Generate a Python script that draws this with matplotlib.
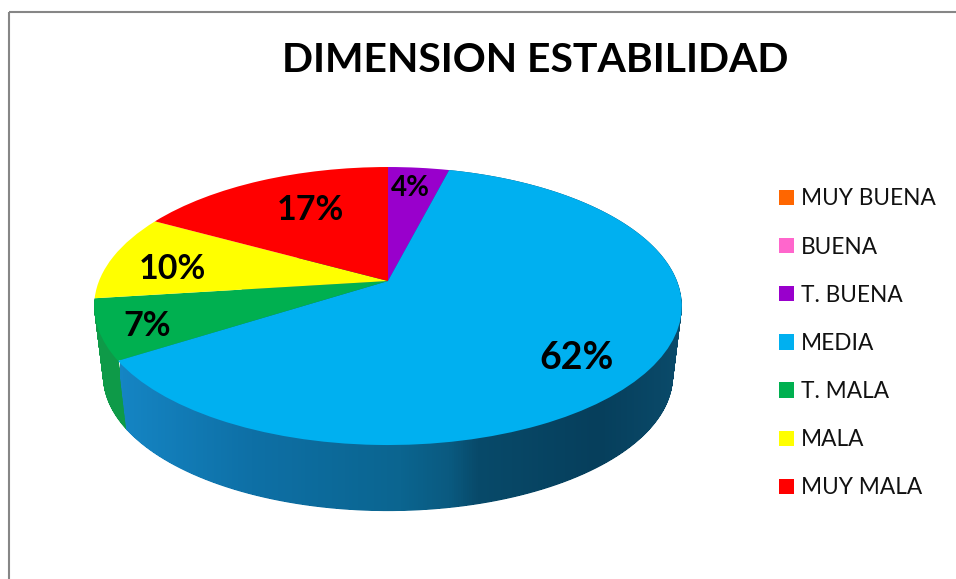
import numpy as np
import matplotlib
matplotlib.use('Agg')
import matplotlib.pyplot as plt
from matplotlib.colors import LinearSegmentedColormap
from matplotlib.patches import Patch, PathPatch, Rectangle
from matplotlib.path import Path
from matplotlib.transforms import Transform

plt.rcParams['font.family'] = ['Lato', 'DejaVu Sans']

titulo = 'DIMENSION ESTABILIDAD'
categorias = ['MUY BUENA', 'BUENA', 'T. BUENA', 'MEDIA', 'T. MALA', 'MALA', 'MUY MALA']
valores = [0, 0, 4, 62, 7, 10, 17]
colores = ['#FF6600', '#FF66CC', '#9900CC', '#00B0F0', '#00B050', '#FFFF00', '#FF0000']

# posicion (pixeles) de cada etiqueta de porcentaje
pos_etiquetas = {'T. BUENA': (410, 188), 'MEDIA': (577, 358), 'T. MALA': (147, 326),
                 'MALA': (172, 269), 'MUY MALA': (310, 210)}
tam_etiquetas = {'T. BUENA': 20, 'MEDIA': 27, 'T. MALA': 24.5, 'MALA': 24.5, 'MUY MALA': 24.5}

# sombreado del lateral, segun x en pixeles
sombra_x = [120, 250, 400, 450, 478, 600, 690]
sombra_azul = ['#1585C4', '#0E70A6', '#0B6590', '#0A5A80', '#084A6A', '#063F5C', '#0B4C6C']

CX, CY = 388, 281   # vertice de la tarta
A, B, K = 134.5, 289.0, 0.18   # perspectiva del disco
ESC_BASE, DESP_BASE = 0.97, 71   # disco inferior


def proyecta(x, y, esc=1.0, desp=0.0):
    d = 1 + K * y
    return CX + esc * B * x / d, CY + desp - esc * A * y / d


def lateral(a1, a2):
    # barrido del arco desde la cara superior hasta la base
    t = np.radians(np.linspace(a1, a2, 150))
    trozos = []
    for s in np.linspace(0, 1, 90):
        x, y = proyecta(np.sin(t), np.cos(t), 1 + s * (ESC_BASE - 1), s * DESP_BASE)
        trozos.append(Path(np.column_stack([np.r_[x, x[0]], np.r_[y, y[0]]]), closed=True))
    return Path.make_compound_path(*trozos)


class Perspectiva(Transform):
    input_dims = output_dims = 2
    is_separable = False
    has_inverse = False

    def transform_non_affine(self, values):
        v = np.asarray(values, dtype=float)
        return np.column_stack(proyecta(v[:, 0], v[:, 1]))


fig = plt.figure(figsize=(9.56, 5.79), dpi=100)
ax = fig.add_axes([0, 0, 1, 1])

fin = np.cumsum(valores) / sum(valores) * 360
ini = fin - np.array(valores) / sum(valores) * 360

# lateral azul con degradado, recortado a la forma del lateral
pos = (np.array(sombra_x) - sombra_x[0]) / (sombra_x[-1] - sombra_x[0])
cmap = LinearSegmentedColormap.from_list('lado', list(zip(pos, sombra_azul)))
img = ax.imshow(np.linspace(0, 1, 570).reshape(1, -1), cmap=cmap, aspect='auto',
                extent=(sombra_x[0], sombra_x[-1], 530, 150), zorder=1)
clip = PathPatch(lateral(ini[3], fin[3]), transform=ax.transData, fc='none', ec='none')
ax.add_patch(clip)
img.set_clip_path(clip)

# lateral verde
ax.add_patch(PathPatch(lateral(ini[4] - 0.5, fin[4]), fc='#0E9A48', ec='none', zorder=0.5))

# cara superior
wedges, _ = ax.pie(valores, colors=colores, startangle=90, counterclock=False,
                   wedgeprops={'linewidth': 0})
persp = Perspectiva() + ax.transData
for w in wedges:
    w.set_transform(persp)
    w.set_zorder(2)

ax.set_xlim(0, 956)
ax.set_ylim(579, 0)
ax.set_aspect('auto')
ax.axis('off')

for cat, v in zip(categorias, valores):
    if v > 0:
        x, y = pos_etiquetas[cat]
        ax.text(x, y, f'{v}%', ha='center', va='center', fontsize=tam_etiquetas[cat],
                fontweight='bold', color='black', zorder=3)

ax.text(535.5, 60, titulo, ha='center', va='center', fontsize=29.4, fontweight='bold', color='black')

# marco del grafico (se corta por la derecha y por abajo)
ax.add_patch(Rectangle((9, 12), 1200, 800, fill=False, ec='#868686', lw=1.5))

handles = [Patch(fc=c, ec='none', label=n) for c, n in zip(colores, categorias)]
leg = ax.legend(handles=handles, loc='upper left', bbox_to_anchor=(779 / 956, 1 - 188.4 / 579),
                frameon=False, fontsize=16.3, handlelength=0.66, handleheight=0.66,
                handletextpad=0.31, labelspacing=1.2, borderpad=0, borderaxespad=0)
for t in leg.get_texts():
    t.set_color('#111111')

fig.savefig('out.png', dpi=100)
